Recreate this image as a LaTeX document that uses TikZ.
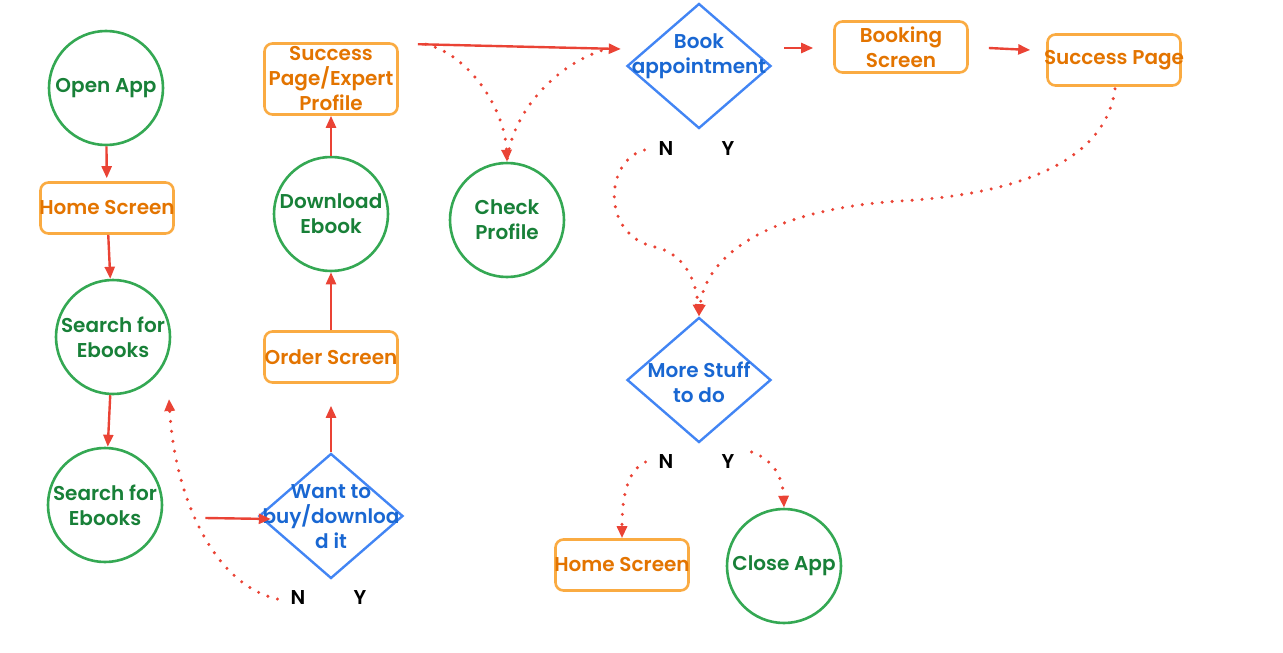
\documentclass[tikz,border=0pt]{standalone}
\usepackage{fontspec}
\setmainfont{Poppins}[BoldFont={Poppins SemiBold}]
\usetikzlibrary{shapes.geometric}
\usetikzlibrary{arrows.meta}

\definecolor{greenline}{HTML}{34A853}
\definecolor{greentext}{HTML}{188038}
\definecolor{orangeline}{HTML}{FAAB42}
\definecolor{orangetext}{HTML}{E37400}
\definecolor{blueline}{HTML}{4285F4}
\definecolor{bluetext}{HTML}{1967D2}
\definecolor{redline}{HTML}{EA4335}

\begin{document}
\begin{tikzpicture}[x=1pt,y=-1pt,
	label font/.style={font=\fontsize{20}{25}\selectfont\bfseries},
	state/.style={circle,draw=greenline,line width=2.6pt,minimum size=114pt,inner sep=-14pt,text=greentext,align=center,label font},
	screen/.style={rectangle,rounded corners=8pt,draw=orangeline,line width=2.6pt,minimum width=133pt,minimum height=51pt,inner sep=-10pt,text=orangetext,align=center,label font},
	decision/.style={diamond,draw=blueline,line width=2.4pt,minimum width=144pt,minimum height=125pt,inner sep=0pt},
	asktext/.style={text=bluetext,align=center,inner sep=0pt,label font},
	answer/.style={text=black,inner sep=0pt,label font},
	flow/.style={draw=redline,line width=2.4pt,-{Triangle[length=12pt,width=10pt]}},
	maybe/.style={draw=redline,line width=3.4pt,line cap=round,dash pattern=on 0pt off 10pt,-{Triangle[length=12pt,width=10pt]}}
]
	\useasboundingbox (0,0) rectangle (1283,653);

	\node[state](open) at (106,88) {Open App};
	\node[screen](home) at (107,208) {Home Screen};
	\node[state](search1) at (113,337) {Search for\\Ebooks};
	\node[state](search2) at (105,505) {Search for\\Ebooks};

	\node[decision](want) at (331,516) {};
	\node[asktext](wanttxt) at (331,517) {Want to\\buy/downloa\\d it};
	\node[answer](wantno) at (298,598) {N};
	\node[answer](wantyes) at (360,598) {Y};

	\node[screen](order) at (331,357) {Order Screen};
	\node[state](download) at (331,214) {Download\\Ebook};
	\node[screen,minimum height=71pt](success) at (331,79) {Success\\Page/Expert\\Profile};
	\node[state](check) at (507,220) {Check\\Profile};

	\node[decision](book) at (699,66) {};
	\node[asktext](booktxt) at (699,56) {Book\\appointment};
	\node[answer](bookno) at (666,149) {N};
	\node[answer](bookyes) at (728,149) {Y};

	\node[screen](booking) at (901,47) {Booking\\Screen};
	\node[screen](successpage) at (1114,60) {Success Page};

	\node[decision](more) at (699,380) {};
	\node[asktext](moretxt) at (699,382) {More Stuff\\to do};
	\node[answer](moreno) at (666,462) {N};
	\node[answer](moreyes) at (728,462) {Y};

	\node[screen](home2) at (622,565) {Home Screen};
	\node[state](close) at (784,566) {Close App};

	% main path
	\draw[flow,shorten >=3pt] (open) -- (home);
	\draw[flow] (home) -- (search1);
	\draw[flow] (search1) -- (search2);
	\draw[flow] ([shift={(42,13)}]search2.east) -- ([shift={(13,3)}]want.west);
	\draw[flow,shorten >=22pt] (want) -- (order);
	\draw[flow] (order) -- (download);
	\draw[flow] (download) -- (success);
	\draw[flow] ([shift={(19,2)}]success.north east) -- ([shift={(-5,-17)}]book.west);
	\draw[flow] ([shift={(12,-18)}]book.east) -- ([shift={(-20,1)}]booking.west);
	\draw[flow] ([shift={(20,1)}]booking.east) -- ([shift={(-16,-10)}]successpage.west);

	% dotted returns
	\draw[maybe] ([shift={(-13,1)}]wantno.west) .. controls (215,585) and (175,500) .. ([shift={(56,62)}]search1.center);
	\draw[maybe] ([shift={(27,2)}]success.north east) .. controls (470,55) and (505,110) .. (check.north);
	\draw[maybe,-] ([shift={(-15,-18)}]book.west) .. controls (560,60) and (512,110) .. (check.north);
	\draw[maybe] ([shift={(-14,1)}]bookno.west) .. controls (605,160) and (600,235) .. (655,247) .. controls (690,255) and (697,290) .. (more.north);
	\draw[maybe] ([shift={(1,2)}]successpage.south) .. controls (1105,165) and (1010,195) .. (900,201) .. controls (760,210) and (705,260) .. (more.north);
	\draw[maybe] ([shift={(-13,0)}]moreno.west) .. controls (628,470) and (622,495) .. (home2.north);
	\draw[maybe] ([shift={(17,-10)}]moreyes.east) .. controls (775,460) and (783,480) .. (close.north);
\end{tikzpicture}
\end{document}
